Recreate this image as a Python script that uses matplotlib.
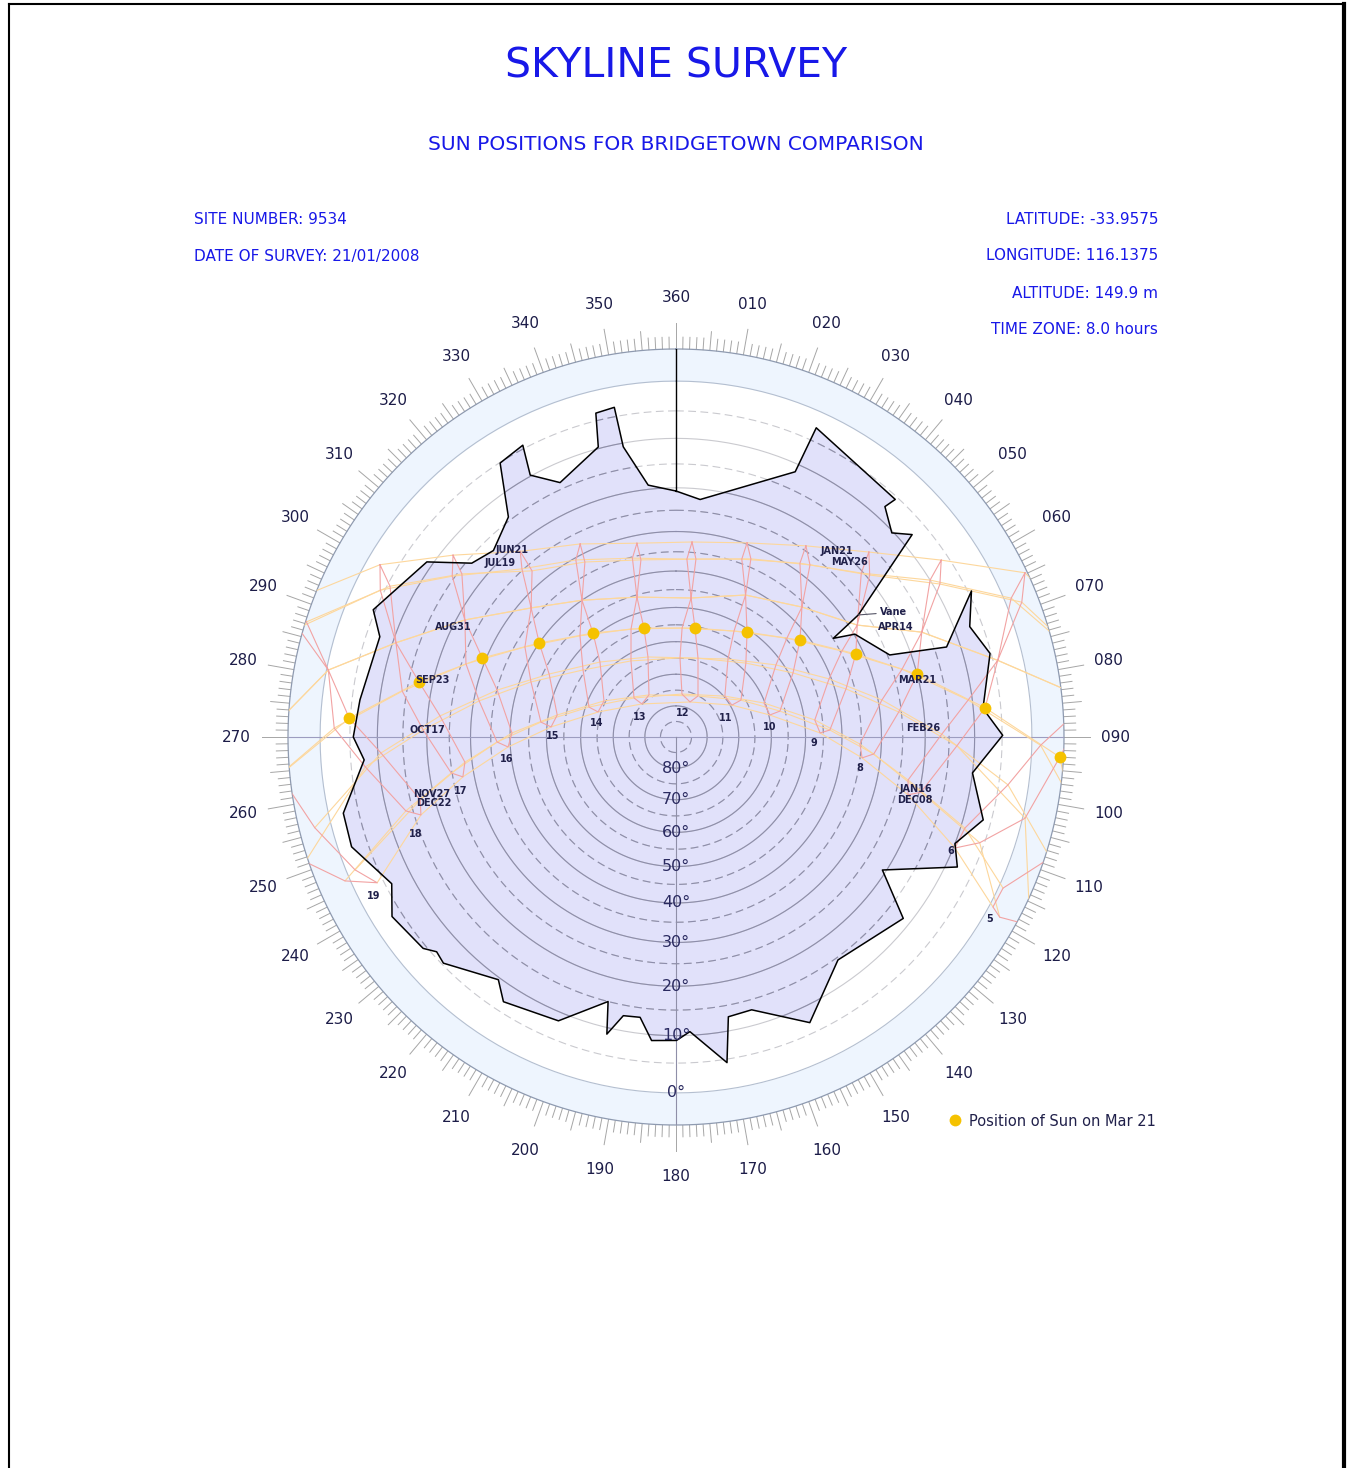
import numpy as np
import matplotlib
matplotlib.use("Agg")
import matplotlib.pyplot as plt
from matplotlib.lines import Line2D

# skyline profile: azimuth (deg, clockwise from north) and altitude (deg)
sky_az = [0, 5.8, 24.2, 24.4, 42.7, 42.2, 46.6, 49.4, 56.2, 57.9, 60.1, 69.0, 71.6, 63.7, 69.4,
          75.1, 84.7, 89.7, 96.9, 105.1, 110.9, 114.8, 122.8, 128.6, 144.0, 154.9, 164.5, 169.4,
          171.1, 177.3, 179.9, 184.6, 187.3, 190.7, 193.1, 194.4, 202.5, 213.1, 216.2, 225.8,
          228.1, 230.1, 237.7, 242.7, 251.3, 257.1, 265.8, 270.0, 276.7, 288.7, 292.8, 305.1,
          310.4, 315.6, 322.7, 327.3, 332.3, 330.9, 335.5, 345.0, 346.1, 349.4, 349.7, 353.7, 360]
sky_alt = [20.7, 22.3, 11.5, 2.7, 5.5, 7.7, 10.3, 7.7, 26.7, 34.9, 29.8, 24.5, 12.6, 4.4, 7.2,
           5.2, 8.2, 4.9, 10.0, 6.4, 10.0, 7.9, 20.8, 11.5, 14.5, 6.9, 13.0, 12.7,
           4.4, 10.7, 9.1, 8.9, 13.1, 12.9, 8.8, 15.0, 8.4, 6.8, 9.6, 5.3,
           5.8, 4.4, 3.3, 6.1, 2.2, 2.4, 7.4, 5.6, 6.4, 7.4, 4.6, 8.9,
           16.0, 17.5, 14.3, 5.1, 4.4, 9.8, 13.7, 9.7, 3.7, 3.4, 10.7, 19.1, 20.7]

# sun on Mar 21, 6h .. 18h
mar21_az = [93.0, 84.7, 75.4, 65.2, 52.0, 33.9, 9.9, 343.7, 321.2, 304.4, 292.1, 282.0, 273.3]
mar21_alt = [-4.4, 7.9, 20.0, 31.8, 42.3, 50.8, 55.6, 54.7, 49.0, 40.1, 29.0, 17.1, 4.8]

# sun positions: one row per clock hour, one column per date
hours = list(range(5, 20))
dates = ["JUN21", "JUL19", "AUG31", "SEP23", "OCT17", "NOV27", "DEC22",
         "JAN16", "FEB26", "MAR21", "APR14", "MAY26"]
sun_az = [
    [95.2, 97.1, 100.1, 103.3, 107.9, 114.8, 118.2, 119.1, 118.0, 109.3, 100.1, 96.6],
    [80.7, 82.4, 84.9, 91.3, 98.2, 107.5, 111.7, 109.2, 103.1, 93.0, 84.9, 81.7],
    [64.8, 68.7, 76.6, 82.8, 89.4, 100.5, 104.0, 102.7, 91.8, 84.6, 76.6, 67.5],
    [56.3, 59.9, 66.9, 73.3, 79.8, 92.2, 96.4, 94.9, 83.6, 75.4, 66.9, 58.3],
    [46.2, 50.1, 58.3, 62.6, 69.2, 83.0, 88.4, 87.4, 74.2, 65.2, 58.3, 48.5],
    [34.2, 37.9, 44.1, 48.3, 54.2, 68.9, 76.8, 76.0, 61.3, 52.0, 44.1, 35.5],
    [20.1, 22.8, 26.1, 28.7, 33.7, 50.1, 60.3, 60.4, 43.4, 34.1, 26.1, 20.3],
    [4.7, 6.4, 6.2, 3.2, 2.9, 7.9, 21.8, 28.2, 15.6, 9.9, 6.2, 3.5],
    [348.6, 348.8, 344.4, 337.4, 329.4, 312.9, 314.1, 327.3, 340.7, 343.6, 344.4, 346.3],
    [333.6, 332.5, 325.5, 316.5, 305.8, 289.0, 287.8, 296.6, 314.6, 321.4, 325.5, 330.5],
    [320.0, 319.1, 311.7, 300.8, 290.8, 276.3, 274.6, 280.5, 296.4, 304.5, 311.7, 317.5],
    [309.2, 307.3, 299.0, 289.2, 280.4, 268.4, 266.6, 271.4, 284.7, 292.2, 299.0, 305.7],
    [300.2, 297.8, 288.6, 279.5, 271.6, 260.9, 259.4, 263.2, 275.1, 282.1, 288.6, 296.4],
    [289.6, 287.3, 280.9, 271.5, 264.5, 254.7, 253.0, 256.2, 266.9, 273.3, 280.9, 286.1],
    [277.3, 273.3, 268.9, 262.7, 251.4, 246.5, 244.0, 247.5, 255.9, 264.5, 268.9, 272.5],
]
sun_alt = [
    [-16.4, -15.4, -12.8, -10.2, -5.7, -0.7, -0.6, -2.3, -6.8, -11.2, -12.8, -14.8],
    [-12.7, -11.1, -8.8, -1.4, 3.4, 9.2, 9.7, 5.8, -0.4, -4.4, -8.8, -10.6],
    [-4.6, -2.4, 4.2, 10.8, 16.5, 22.9, 22.2, 19.6, 13.4, 7.8, 4.2, -1.1],
    [6.3, 8.8, 16.2, 22.9, 29.1, 35.3, 34.5, 31.7, 25.6, 20.0, 16.2, 10.0],
    [16.2, 19.3, 28.2, 34.6, 40.6, 47.1, 45.9, 43.2, 37.2, 31.8, 28.2, 20.4],
    [24.0, 27.0, 36.1, 44.7, 51.8, 60.3, 59.7, 56.5, 48.9, 42.3, 36.1, 28.1],
    [29.7, 33.0, 42.1, 52.5, 60.5, 69.7, 69.5, 66.3, 58.1, 50.8, 42.1, 33.9],
    [32.4, 36.6, 47.1, 55.9, 64.9, 76.1, 77.9, 75.1, 64.1, 55.5, 47.1, 36.8],
    [31.9, 36.2, 45.6, 53.6, 62.1, 71.7, 74.8, 74.0, 63.2, 54.6, 45.6, 35.3],
    [27.6, 32.0, 40.0, 47.2, 54.3, 61.0, 64.1, 64.5, 56.6, 49.0, 40.0, 30.5],
    [21.5, 26.6, 32.8, 37.4, 42.9, 48.2, 51.2, 52.5, 46.6, 40.0, 32.8, 24.7],
    [12.1, 15.8, 21.7, 26.0, 31.3, 36.6, 39.4, 40.5, 35.1, 29.1, 21.7, 14.5],
    [2.2, 5.5, 10.6, 14.1, 19.2, 24.8, 27.3, 28.3, 22.7, 17.1, 10.6, 4.3],
    [-7.7, -4.8, 0.3, 2.3, 7.5, 13.6, 16.3, 17.0, 10.6, 4.8, 0.3, -5.7],
    [-13.3, -11.6, -9.6, -9.1, -5.4, -0.8, 3.9, 1.4, -2.6, -6.4, -9.6, -12.2],
]

# text labels on the chart (text, azimuth, altitude)
date_labels = [("JUN21", 318.7, 20.1), ("JUL19", 314.7, 20.4), ("AUG31", 296.3, 20.1),
               ("SEP23", 283.2, 19.9), ("OCT17", 271.6, 20.0), ("NOV27", 256.9, 19.7),
               ("DEC22", 254.7, 19.7), ("JAN21", 40.9, 20.7), ("MAY26", 44.8, 20.5),
               ("APR14", 63.4, 20.7), ("MAR21", 76.7, 20.4), ("FEB26", 87.9, 20.5),
               ("JAN16", 102.2, 20.8), ("DEC08", 104.8, 20.5)]
hour_labels = [("5", 120.1, -1.1), ("6", 112.5, 10.2), ("8", 99.6, 34.7), ("9", 92.5, 47.6),
               ("10", 83.9, 60.3), ("11", 69.2, 72.9), ("12", 16.3, 82.0), ("13", 299.1, 76.8),
               ("14", 280.0, 64.6), ("15", 270.5, 51.9), ("16", 262.6, 38.8), ("17", 255.9, 26.2),
               ("18", 249.5, 14.1), ("19", 242.2, 2.4)]
vane_label = (60.2, 19.6)

A_OUT = -4.94  # outer edge of the below-horizon band


def fwd(a):
    # stereographic projection of altitude
    return -np.tan(np.radians(90.0 - np.asarray(a, dtype=float)) / 2)


def inv(v):
    return 90.0 - 2 * np.degrees(np.arctan(-np.asarray(v, dtype=float)))


def T(a):
    return np.radians(np.asarray(a, dtype=float))


fig = plt.figure(figsize=(13.55, 14.68), dpi=100)
ax = fig.add_axes([288 / 1355, 1 - 1125 / 1468, 776 / 1355, 776 / 1468], projection="polar")
ax.set_theta_zero_location("N")
ax.set_theta_direction(-1)
ax.set_rscale("function", functions=(fwd, inv))
ax.set_axis_off()

th = np.radians(np.arange(0, 361))

# band below the horizon
ax.fill_between(th, 0, A_OUT, color="#eef5fe", lw=0, zorder=0.5)
ax.plot(th, np.zeros_like(th), color="#b4bfd0", lw=0.8, zorder=0.6)
ax.plot(th, np.full_like(th, A_OUT), color="#8e9ab0", lw=0.9, zorder=0.6, clip_on=False)

# skyline
poly = ax.fill(T(sky_az), sky_alt, facecolor="#e1e1fa", edgecolor="none", zorder=1)[0]

# altitude circles, darker where they sit behind the skyline
for a in range(5, 90, 5):
    ls = "-" if a % 10 == 0 else (0, (7, 4))
    ax.plot(th, np.full_like(th, a), color="#cacacf", lw=0.8, ls=ls, zorder=1.5)
    ln, = ax.plot(th, np.full_like(th, a), color="#8d8dab", lw=0.8, ls=ls, zorder=1.6)
    ln.set_clip_path(poly)

# cross lines
ax.plot([T(270), T(270)], [A_OUT, 90], color="#9d9dc0", lw=0.8, zorder=2)
ax.plot([T(90), T(90)], [90, A_OUT], color="#9d9dc0", lw=0.8, zorder=2)
ax.plot([T(180), T(180)], [90, A_OUT], color="#8f8fa8", lw=0.8, zorder=2)
ax.plot([0, 0], [sky_alt[0], A_OUT], color="black", lw=1.0, zorder=4)

# azimuth ticks and labels
for d in range(360):
    end = -8.62 if d % 10 == 0 else (-7.64 if d % 5 == 0 else -6.66)
    ax.plot([T(d), T(d)], [A_OUT, end], color="#a6a6a6", lw=0.7, clip_on=False, zorder=0.4)
for d in range(0, 360, 10):
    lab = "360" if d == 0 else f"{d:03d}"
    ax.text(T(d), -12.0, lab, ha="center", va="center", fontsize=11, color="#1c1c48", clip_on=False)

# altitude labels
for a in range(0, 90, 10):
    ax.text(np.pi, a, f"{a}°", ha="center", va="center", fontsize=11.5, color="#2a2a60", zorder=7)

# hour analemmas and date paths
gaz = np.array(sun_az)
galt = np.array(sun_alt)
for i in range(len(hours)):
    ax.plot(T(np.append(gaz[i], gaz[i][0])), np.append(galt[i], galt[i][0]),
            color="#f2a3a3", lw=0.8, zorder=3)
for j in range(len(dates)):
    ax.plot(T(gaz[:, j]), galt[:, j], color="#fdd79c", lw=0.8, zorder=2.9)

ax.plot(T(sky_az), sky_alt, color="black", lw=1.1, zorder=4)

ax.plot(T(mar21_az), mar21_alt, "o", color="#f5c200", ms=8.5, mec="none", zorder=5,
        clip_on=False, label="Position of Sun on Mar 21")

for s, a, b in date_labels + hour_labels:
    ax.text(T(a), b, s, ha="center", va="center", fontsize=7, fontweight="bold",
            color="#20204a", zorder=6)
ax.annotate("Vane", xy=(T(sky_az[8]), sky_alt[8]), xytext=(T(vane_label[0]), vane_label[1]),
            ha="center", va="center", fontsize=7, fontweight="bold", color="#20204a", zorder=6,
            arrowprops=dict(arrowstyle="-", color="#555566", lw=0.8, shrinkA=1, shrinkB=0))

ax.set_rlim(90, A_OUT)

ax.legend(loc="center left", bbox_to_anchor=(935 / 1355, 1 - 1121 / 1468), bbox_transform=fig.transFigure,
          frameon=False, fontsize=10.5, handlelength=1.0, handletextpad=0.4, numpoints=1,
          labelcolor="#20204a")

blue = "#1818e8"
fig.text(0.4989, 1 - 66 / 1468, "SKYLINE SURVEY", ha="center", va="center", fontsize=29.5, color=blue)
fig.text(0.4989, 1 - 144 / 1468, "SUN POSITIONS FOR BRIDGETOWN COMPARISON", ha="center", va="center",
         fontsize=14.5, color=blue)
fig.text(194 / 1355, 1 - 219 / 1468, "SITE NUMBER: 9534", ha="left", va="center", fontsize=11, color=blue)
fig.text(194 / 1355, 1 - 256 / 1468, "DATE OF SURVEY: 21/01/2008", ha="left", va="center", fontsize=11,
         color=blue)
for yy, s in [(219, "LATITUDE: -33.9575"), (256, "LONGITUDE: 116.1375"),
              (293, "ALTITUDE: 149.9 m"), (330, "TIME ZONE: 8.0 hours")]:
    fig.text(1158 / 1355, 1 - yy / 1468, s, ha="right", va="center", fontsize=11, color=blue)

# page frame
fig.add_artist(Line2D([9 / 1355, 9 / 1355], [0, 1 - 4 / 1468], color="black", lw=1.5))
fig.add_artist(Line2D([1344 / 1355, 1344 / 1355], [0, 1 - 4 / 1468], color="black", lw=3.0))
fig.add_artist(Line2D([9 / 1355, 1344 / 1355], [1 - 4 / 1468, 1 - 4 / 1468], color="black", lw=1.5))

fig.savefig("out.png", dpi=100, facecolor="white")
